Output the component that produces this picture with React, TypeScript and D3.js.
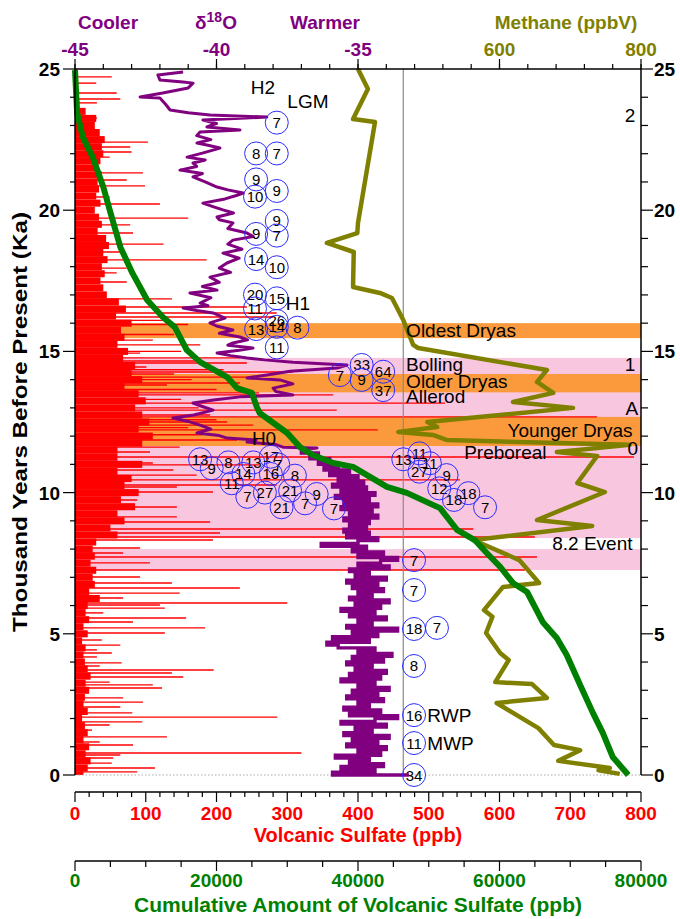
import React from "react";
import * as d3 from "d3";

// ---------- data ----------

// δ18O (‰), Holocene part sampled every 0.1 ka starting at 0 ka
const d18oHoloceneStep = 0.1;
const d18oHolocene = [
  -33.2, -35.9, -34.4, -35.6, -34.1, -35.3, -34.6, -35.8, -34.2, -35.0,
  -34.0, -35.4, -34.3, -35.2, -33.9, -35.5, -34.5, -35.1, -34.0, -35.6,
  -34.4, -33.6, -35.3, -34.2, -35.5, -34.6, -35.0, -34.1, -35.4, -34.3,
  -35.2, -33.9, -35.0, -34.4, -35.6, -34.2, -35.3, -34.0, -35.1, -34.5,
  -35.4, -34.1, -35.2, -33.8, -35.0, -34.4, -35.7, -36.1, -34.6, -35.9,
  -34.3, -35.2, -33.6, -35.4, -34.5, -35.0, -34.0, -35.3, -34.4, -35.6,
  -34.2, -35.1, -33.9, -35.3, -34.5, -35.0, -34.1, -35.2, -34.3, -35.4,
  -34.0, -35.1, -34.6, -35.3, -33.9, -35.0, -34.2, -33.6, -35.0, -34.1,
  -35.2, -34.7, -36.3, -35.0, -34.3, -35.4, -34.6, -35.5, -34.7, -35.3,
  -34.6, -35.5, -34.3, -35.3, -34.5, -35.6, -34.3, -35.5, -34.6, -35.8,
  -34.4, -35.6, -34.7, -35.9, -34.8, -35.7, -35.0, -36.0, -35.3, -36.2,
  -35.7, -36.4, -36.0, -36.7, -36.4, -37.0,
];

// δ18O (‰), deglacial and glacial part as [age ka, value]
const d18oGlacial: [number, number][] = [
  [11.58, -36.45], [11.61, -37.65], [11.7, -37.9], [11.79, -38.92], [11.86, -38.6],
  [11.93, -39.63], [12.02, -39.9], [12.11, -40.69], [12.25, -40.2], [12.39, -40.58],
  [12.52, -41.0], [12.64, -41.54], [12.75, -40.8], [12.92, -40.12], [13.05, -40.5],
  [13.17, -40.83], [13.28, -40.1], [13.39, -39.17], [13.46, -37.3], [13.58, -37.9],
  [13.7, -38.0], [13.85, -37.3], [13.99, -37.76], [14.06, -38.92], [14.2, -38.0],
  [14.3, -37.4], [14.41, -35.74], [14.52, -35.39], [14.62, -37.3], [14.7, -38.3],
  [14.77, -38.92], [14.85, -39.5], [14.94, -39.98], [15.04, -39.2], [15.12, -38.71],
  [15.22, -39.6], [15.3, -39.42], [15.41, -38.9], [15.51, -39.17], [15.64, -39.9],
  [15.76, -39.42], [15.9, -40.0], [16.01, -40.23], [16.18, -39.7], [16.36, -40.12],
  [16.45, -40.7], [16.54, -41.18], [16.62, -40.3], [16.71, -40.58], [16.9, -40.2],
  [17.07, -40.94], [17.17, -39.98], [17.3, -40.5], [17.45, -39.9], [17.63, -40.23],
  [17.8, -39.5], [17.95, -39.9], [18.13, -39.63], [18.3, -39.2], [18.48, -39.77],
  [18.62, -39.1], [18.8, -39.6], [18.94, -39.42], [19.07, -38.7], [19.19, -38.92],
  [19.35, -39.6], [19.55, -39.42], [19.66, -39.9], [19.76, -39.98], [19.9, -39.4],
  [20.01, -39.77], [20.12, -40.1], [20.25, -40.48], [20.4, -39.7], [20.52, -39.3],
  [20.61, -39.06], [20.72, -39.6], [20.82, -39.98], [21.0, -40.4], [21.18, -40.83],
  [21.3, -40.5], [21.42, -41.29], [21.55, -40.7], [21.67, -40.83], [21.78, -40.4],
  [21.88, -41.04], [22.02, -40.5], [22.2, -39.88], [22.3, -40.3], [22.38, -40.69],
  [22.5, -40.2], [22.64, -40.7], [22.77, -40.58], [22.84, -39.17], [22.95, -40.34],
  [23.07, -40.0], [23.19, -40.48], [23.3, -38.22], [23.37, -40.23], [23.45, -41.0],
  [23.55, -41.64], [23.75, -41.8], [23.97, -42.0], [24.01, -42.7], [24.15, -41.9],
  [24.33, -41.0], [24.5, -40.83], [24.54, -41.18], [24.61, -42.0], [24.79, -42.07],
  [24.89, -41.18],
];

// Methane (ppbV) as [age ka, value]
const methane: [number, number][] = [
  [0.04, 770], [0.17, 740], [0.25, 756], [0.5, 683], [0.88, 714], [1.06, 677],
  [1.66, 655], [2.55, 596], [2.73, 667], [3.22, 646], [3.29, 594], [4.07, 613],
  [4.32, 601], [5.03, 581], [5.6, 590], [5.84, 578], [6.66, 605], [6.8, 656],
  [7.61, 628], [8.32, 563], [8.82, 731], [9.03, 653], [10.02, 749], [10.34, 710],
  [11.3, 738], [11.44, 681], [11.69, 784], [11.86, 526], [12.04, 506], [12.15, 457],
  [12.32, 512], [12.5, 498], [13.0, 704], [13.21, 619], [13.53, 676], [13.92, 653],
  [14.34, 667], [15.12, 485], [15.23, 478], [16.11, 464], [16.89, 448], [17.07, 431],
  [17.28, 393], [18.52, 394], [18.84, 356], [19.19, 399], [19.55, 400], [23.12, 424],
  [23.23, 393], [24.29, 414], [25.0, 400],
];

// Cumulative volcanic sulfate (ppb) as [age ka, value]
const cumulativeSulfate: [number, number][] = [
  [0, 78200], [0.64, 76000], [1.49, 74600], [2.2, 73200], [3.19, 71400], [4.25, 69500],
  [4.85, 68100], [5.42, 66100], [6.48, 63900], [6.8, 61900], [7.37, 60100], [7.86, 58200],
  [8.32, 56500], [8.68, 54000], [9.45, 51600], [9.99, 46900], [10.2, 44100], [10.91, 39300],
  [11.05, 36500], [11.33, 33600], [11.61, 31800], [12.11, 30000], [12.82, 26100], [13.03, 25700],
  [13.53, 25000], [13.7, 22900], [14.09, 21500], [14.62, 17700], [15.05, 15800], [15.86, 14100],
  [16.22, 12400], [16.82, 10200], [17.78, 8100], [18.7, 6400], [20.01, 4900], [20.82, 4000],
  [21.88, 2500], [22.59, 1100], [23.44, 300], [24.96, 0],
];

// Volcanic sulfate (ppb) background level, one value per 0.25 ka from 0 ka
const sulfateBaseStep = 0.25;
const sulfateBase = [
  12, 18, 22, 15, 20, 12, 18, 14, 10, 18, 12, 14, 20, 15, 22, 18, 14, 12, 15, 10,
  18, 12, 20, 15, 18, 35, 20, 28, 25, 30, 22, 28, 25, 30, 60, 50, 70, 60, 85, 65,
  90, 70, 80, 60, 95, 60, 60, 95, 110, 90, 105, 95, 85, 100, 90, 70, 95, 80, 85, 68,
  75, 60, 70, 65, 80, 58, 72, 62, 45, 40, 36, 42, 38, 46, 40, 48, 44, 32, 38, 34,
  28, 36, 30, 34, 32, 38, 30, 36, 40, 38, 42, 35, 28, 30, 15, 6, 5, 3, 4, 2, 3,
];

// Individual volcanic sulfate peaks as [age ka, ppb]
const sulfatePeaks: [number, number][] = [
  [0.11, 88], [0.25, 113], [0.42, 52], [0.6, 54], [0.71, 64], [0.78, 320], [1.06, 82],
  [1.17, 35], [1.35, 130], [1.59, 24], [1.77, 49], [1.88, 95], [2.05, 286], [2.2, 81],
  [2.41, 64], [2.58, 96], [2.73, 68], [3.08, 123], [3.19, 110], [3.29, 49], [3.47, 153],
  [3.61, 137], [3.72, 196], [3.86, 35], [3.97, 66], [4.18, 31], [4.32, 52], [4.43, 31],
  [4.6, 64], [4.78, 38], [5.03, 127], [5.21, 184], [5.42, 82], [5.56, 157], [5.74, 40],
  [5.91, 127], [6.02, 120], [6.09, 300], [6.27, 68], [6.44, 148], [6.62, 233], [6.8, 137],
  [7.01, 92], [7.26, 636], [7.51, 106], [7.72, 653], [7.86, 68], [8.04, 92], [8.32, 195],
  [8.43, 650], [8.57, 205], [8.71, 563], [8.96, 191], [9.14, 144], [9.49, 144], [9.74, 88],
  [10.02, 195], [10.2, 144], [10.27, 285], [10.45, 544], [10.62, 172], [10.8, 139],
  [10.98, 260], [11.05, 110], [11.26, 790], [11.44, 106], [11.61, 148], [11.86, 229],
  [12.05, 180], [12.22, 428], [12.3, 160], [12.39, 252], [12.5, 215], [12.58, 200],
  [12.68, 738], [12.75, 191], [12.92, 370], [13.0, 175], [13.17, 523], [13.3, 150],
  [13.46, 365], [13.53, 260], [13.65, 200], [13.81, 130], [13.88, 233], [14.0, 165],
  [14.09, 260], [14.2, 140], [14.27, 308], [14.35, 210], [14.45, 101], [14.59, 243],
  [14.66, 170], [14.77, 233], [14.94, 92], [15.0, 150], [15.23, 177], [15.4, 110],
  [15.6, 140], [15.95, 160], [16.1, 130], [16.22, 280], [16.36, 285], [16.57, 243],
  [16.86, 137], [17.46, 73], [17.78, 59], [17.95, 73], [18.24, 186], [18.52, 64],
  [18.8, 125], [19.19, 82], [19.48, 78], [19.72, 160], [20.22, 120], [20.47, 49],
  [20.86, 99], [21.07, 73], [21.32, 96], [21.88, 49], [22.06, 80], [22.24, 78],
  [22.41, 103], [23.26, 31], [23.8, 31], [23.94, 64], [24.15, 59], [24.5, 30], [24.72, 52],
];

// Bipolar volcanic events: age (ka), column position on the δ18O scale, sulfate label
const eventAges = [
  23.1, 22.01, 22.01, 21.09, 20.68, 20.48, 19.62, 19.16, 19.1, 18.27, 17.98, 17.01, 16.88,
  16.52, 16.08, 15.79, 15.87, 15.84, 15.14, 14.16, 14.52, 13.99, 14.28, 13.63, 11.18, 10.86,
  11.07, 11.07, 11.27, 11.0, 10.66, 10.66, 10.6, 10.33, 9.85, 10.0, 10.07, 9.95, 9.62, 9.48,
  9.44, 11.18, 11.39, 11.04, 10.74, 10.62, 10.15, 9.74, 9.98, 9.48, 7.61, 6.55, 5.17, 5.21,
  3.86, 2.12, 1.13, 0,
];
const eventColumns = [
  -37.87, -38.6, -37.87, -38.6, -37.87, -38.64, -37.87, -38.6, -37.87, -38.6, -37.87, -38.64,
  -37.87, -38.64, -37.87, -38.6, -37.87, -37.14, -37.87, -35.64, -34.87, -34.87, -34.11, -34.11,
  -40.58, -40.17, -39.58, -38.7, -38.08, -37.82, -39.05, -38.08, -37.23, -39.46, -38.91, -38.29,
  -37.4, -36.46, -36.87, -37.7, -35.85, -33.4, -32.83, -32.46, -32.83, -31.87, -32.13, -31.61,
  -31.1, -30.51, -33.02, -33.02, -33.02, -32.21, -33.02, -33.02, -33.02, -33.02,
];
const eventLabels = [
  "7", "8", "7", "9", "9", "10", "9", "9", "7", "14", "10", "20", "15", "11", "26", "13", "14",
  "8", "11", "7", "33", "9", "64", "37", "13", "9", "8", "13", "17", "7", "14", "16", "8", "11",
  "7", "27", "21", "9", "7", "21", "7", "13", "11", "11", "27", "9", "12", "18", "18", "7", "7",
  "7", "18", "7", "8", "16", "11", "34",
];

// Climate intervals (ka)
const coldIntervals: [number, number][] = [[15.47, 16.0], [13.55, 14.2], [11.65, 12.68]];
const warmIntervals: [number, number][] = [[8.39, 14.77], [7.26, 8.0]];

// Interval and event names: [text, age ka, δ18O-scale position, anchor]
const annotations: [string, number, number, string][] = [
  ["H2", 24.11, -38.36, "middle"],
  ["LGM", 23.62, -36.77, "middle"],
  ["H1", 16.47, -37.12, "middle"],
  ["H0", 11.69, -38.32, "middle"],
  ["Oldest Dryas", 15.51, -33.3, "start"],
  ["Bolling", 14.31, -33.3, "start"],
  ["Older Dryas", 13.7, -33.3, "start"],
  ["Allerod", 13.17, -33.3, "start"],
  ["Younger Dryas", 11.97, -25.3, "end"],
  ["Preboreal", 11.19, -31.25, "start"],
  ["8.2 Event", 7.97, -25.3, "end"],
  ["RWP", 1.88, -32.55, "start"],
  ["MWP", 0.89, -32.55, "start"],
  ["2", 23.12, -25.2, "end"],
  ["1", 14.31, -25.2, "end"],
  ["A", 12.75, -25.1, "end"],
  ["0", 11.33, -25.1, "end"],
];

const d18oTicks = [-45, -40, -35];
const methaneTicks = [600, 800];
const ageTicks = [0, 5, 10, 15, 20, 25];
const sulfateTicks = [0, 100, 200, 300, 400, 500, 600, 700, 800];
const cumulativeTicks = [0, 20000, 40000, 60000, 80000];

// ---------- drawing ----------

const FONT = "'Liberation Sans', Arial, Helvetica, sans-serif";
const PURPLE = "#800080";
const OLIVE = "#808000";
const GREEN = "#008000";
const RED = "#ff0000";
const ORANGE = "#fa9a3c";
const PINK = "#f9c6e0";
const BLUE = "#2b2bff";

const L = 75, R = 641, T = 69, B = 775;

export default function App() {
  const y = d3.scaleLinear().domain([0, 25]).range([B, T]);
  const xD = d3.scaleLinear().domain([-45, -25]).range([L, R]);
  const xM = d3.scaleLinear().domain([0, 800]).range([L, R]);
  const xS = d3.scaleLinear().domain([0, 800]).range([L, R]).clamp(true);
  const xC = d3.scaleLinear().domain([0, 80000]).range([L, R]);

  const holo: [number, number][] = d18oHolocene.map(
    (v, i) => [i * d18oHoloceneStep, v] as [number, number]
  );
  const lineD = d3.line<[number, number]>().x((d) => xD(d[1])).y((d) => y(d[0]));
  // Holocene drawn as a stepped trace: each sample is a horizontal excursion at its age
  const holoPath = d3
    .line<[number, number]>()
    .x((d) => xD(d[1]))
    .y((d) => y(d[0]))
    .curve(d3.curveStepAfter)(holo) || "";
  const glacialPath = lineD([holo[holo.length - 1], ...d18oGlacial]) || "";
  const methanePath = d3.line<[number, number]>().x((d) => xM(d[1])).y((d) => y(d[0]))(methane) || "";
  const cumPath =
    d3.line<[number, number]>().x((d) => xC(d[1])).y((d) => y(d[0]))(cumulativeSulfate) || "";

  const ageMinor = d3.range(0, 26, 1);
  const topMinor = d3.range(-45, -24.5, 1);
  const topMajor = d3.range(-45, -24.5, 5);
  const sulfMinor = d3.range(0, 801, 20);
  const cumMinor = d3.range(0, 80001, 5000);

  const bold = { fontFamily: FONT, fontWeight: 700 } as const;

  return (
    <svg
      width={680}
      height={919}
      style={{ position: "absolute", left: 0, top: 0, background: "#fff" }}
      fontFamily={FONT}
    >
      {/* climate intervals */}
      {warmIntervals.map(([a, b], i) => (
        <rect key={"w" + i} x={L} width={R - L} y={y(b)} height={y(a) - y(b)} fill={PINK} />
      ))}
      {coldIntervals.map(([a, b], i) => (
        <rect key={"c" + i} x={L} width={R - L} y={y(b)} height={y(a) - y(b)} fill={ORANGE} />
      ))}

      {/* volcanic sulfate background */}
      {sulfateBase.map((v, i) => {
        const age = i * sulfateBaseStep;
        const a0 = Math.max(0, age - sulfateBaseStep / 2);
        const a1 = Math.min(25, age + sulfateBaseStep / 2);
        return (
          <rect key={"sb" + i} x={L} y={y(a1)} width={xS(v) - L} height={y(a0) - y(a1)} fill={RED} />
        );
      })}
      {/* volcanic sulfate peaks */}
      {sulfatePeaks.map(([a, v], i) => (
        <line key={"sp" + i} x1={L} x2={xS(v)} y1={y(a)} y2={y(a)} stroke={RED} strokeWidth={1.4} />
      ))}

      {/* reference line */}
      <line x1={xD(-33.4)} x2={xD(-33.4)} y1={T} y2={B} stroke="#8a8a8a" strokeWidth={1.2} />
      <line x1={L} x2={R} y1={B} y2={B} stroke="#aaa" strokeWidth={1} strokeDasharray="1.5,2" />

      {/* δ18O */}
      <path d={holoPath} fill="none" stroke={PURPLE} strokeWidth={3.4} strokeLinejoin="miter" />
      <path d={glacialPath} fill="none" stroke={PURPLE} strokeWidth={3} strokeLinejoin="round" />
      {/* methane */}
      <path d={methanePath} fill="none" stroke={OLIVE} strokeWidth={4.5} strokeLinejoin="round" />
      {/* cumulative sulfate */}
      <path d={cumPath} fill="none" stroke={GREEN} strokeWidth={6} strokeLinejoin="round" />

      {/* volcanic events */}
      {eventAges.map((a, i) => (
        <g key={"ev" + i} transform={`translate(${xD(eventColumns[i])},${y(a)})`}>
          <circle r={11.5} fill="none" stroke={BLUE} strokeWidth={1} />
          <text y={5.5} textAnchor="middle" fontSize={15} fill="#000">
            {eventLabels[i]}
          </text>
        </g>
      ))}

      {/* interval names */}
      {annotations.map(([t, a, p, anchor], i) => (
        <text
          key={"an" + i}
          x={xD(p)}
          y={y(a)}
          textAnchor={anchor as any}
          fontSize={19}
          fill="#000"
        >
          {t}
        </text>
      ))}

      {/* left axis */}
      <line x1={L} x2={L} y1={T} y2={B} stroke="#000" strokeWidth={1.5} />
      {ageMinor.map((a) => (
        <line key={"lm" + a} x1={L - (a % 5 === 0 ? 12 : 5)} x2={L} y1={y(a)} y2={y(a)} stroke="#000" strokeWidth={1.2} />
      ))}
      {ageTicks.map((a) => (
        <text key={"ll" + a} x={L - 15} y={y(a) + 7} textAnchor="end" fontSize={19} {...bold}>
          {a}
        </text>
      ))}
      {/* right axis */}
      <line x1={R} x2={R} y1={T} y2={B} stroke="#000" strokeWidth={1.5} />
      {ageMinor.map((a) => (
        <line key={"rm" + a} x1={R} x2={R + (a % 5 === 0 ? 12 : 7)} y1={y(a)} y2={y(a)} stroke="#000" strokeWidth={1.2} />
      ))}
      {ageTicks.map((a) => (
        <text key={"rl" + a} x={R + 13} y={y(a) + 7} textAnchor="start" fontSize={19} {...bold}>
          {a}
        </text>
      ))}
      <text
        transform={`translate(27,${(T + B) / 2}) rotate(-90)`}
        textAnchor="middle"
        fontSize={20}
        textLength={420}
        lengthAdjust="spacingAndGlyphs"
        {...bold}
      >
        Thousand Years Before Present (Ka)
      </text>

      {/* top axis */}
      <line x1={L} x2={R} y1={T} y2={T} stroke="#000" strokeWidth={1.5} />
      {topMinor.map((v) => (
        <line key={"tm" + v} x1={xD(v)} x2={xD(v)} y1={T} y2={T - 5} stroke="#000" strokeWidth={1.2} />
      ))}
      {topMajor.map((v) => (
        <line key={"tM" + v} x1={xD(v)} x2={xD(v)} y1={T} y2={T - 10} stroke="#000" strokeWidth={1.2} />
      ))}
      {d18oTicks.map((v) => (
        <text key={"td" + v} x={xD(v)} y={56} textAnchor="middle" fontSize={19} fill={PURPLE} {...bold}>
          {v}
        </text>
      ))}
      {methaneTicks.map((v) => (
        <text key={"tc" + v} x={xM(v)} y={56} textAnchor="middle" fontSize={19} fill={OLIVE} {...bold}>
          {v}
        </text>
      ))}
      <text x={108} y={29} textAnchor="middle" fontSize={19} fill={PURPLE} {...bold}>Cooler</text>
      <text x={216} y={29} textAnchor="middle" fontSize={19} fill={PURPLE} {...bold}>
        δ<tspan dy={-7} fontSize={14}>18</tspan>
        <tspan dy={7}>O</tspan>
      </text>
      <text x={325} y={29} textAnchor="middle" fontSize={19} fill={PURPLE} {...bold}>Warmer</text>
      <text x={566} y={29} textAnchor="middle" fontSize={19} fill={OLIVE} {...bold}>Methane (ppbV)</text>

      {/* volcanic sulfate axis */}
      <line x1={L} x2={R} y1={792} y2={792} stroke="#000" strokeWidth={1.5} />
      {sulfMinor.map((v) => (
        <line key={"sm" + v} x1={xS(v)} x2={xS(v)} y1={792} y2={v % 100 === 0 ? 802 : 797} stroke="#000" strokeWidth={1.2} />
      ))}
      {sulfateTicks.map((v) => (
        <text key={"sl" + v} x={xS(v)} y={820} textAnchor="middle" fontSize={19} fill={RED} {...bold}>
          {v}
        </text>
      ))}
      <text x={358} y={842} textAnchor="middle" fontSize={20} fill={RED} {...bold}>
        Volcanic Sulfate (ppb)
      </text>

      {/* cumulative sulfate axis */}
      <line x1={L} x2={R} y1={861} y2={861} stroke="#000" strokeWidth={1.5} />
      {cumMinor.map((v) => (
        <line key={"cm" + v} x1={xC(v)} x2={xC(v)} y1={861} y2={v % 20000 === 0 ? 871 : 867} stroke="#000" strokeWidth={1.2} />
      ))}
      {cumulativeTicks.map((v) => (
        <text key={"cl" + v} x={xC(v)} y={887} textAnchor="middle" fontSize={19} fill={GREEN} {...bold}>
          {v}
        </text>
      ))}
      <text x={358} y={912} textAnchor="middle" fontSize={21} fill={GREEN} {...bold}>
        Cumulative Amount of Volcanic Sulfate (ppb)
      </text>
    </svg>
  );
}
